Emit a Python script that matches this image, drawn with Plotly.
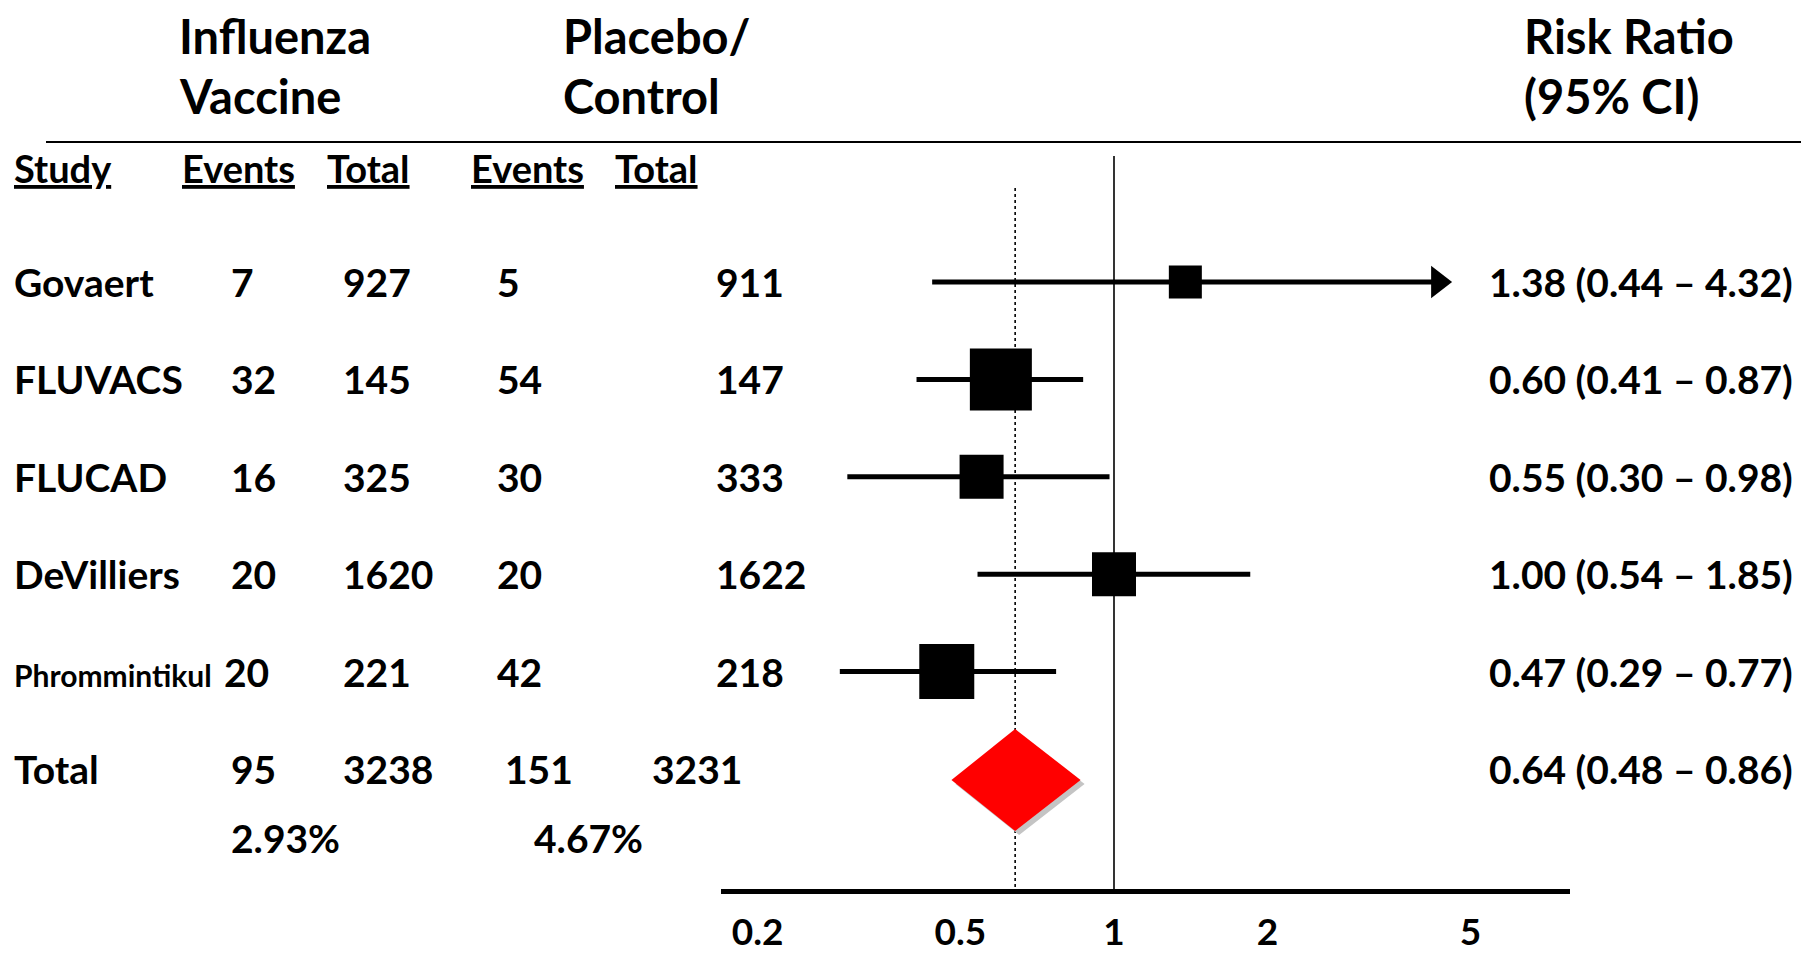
import numpy as np
import plotly.graph_objects as go

# ---------------- data ----------------
studies = ["Govaert", "FLUVACS", "FLUCAD", "DeVilliers", "Phrommintikul"]
vac_events = [7, 32, 16, 20, 20]
vac_total = [927, 145, 325, 1620, 221]
ctl_events = [5, 54, 30, 20, 42]
ctl_total = [911, 147, 333, 1622, 218]
rr = [1.38, 0.60, 0.55, 1.00, 0.47]
ci_low = [0.44, 0.41, 0.30, 0.54, 0.29]
ci_high = [4.32, 0.87, 0.98, 1.85, 0.77]

total_label = "Total"
total_vac_events = 95
total_vac = 3238
total_ctl_events = 151
total_ctl = 3231
vac_pct = "2.93%"
ctl_pct = "4.67%"
pooled_rr = 0.64
pooled_low = 0.48
pooled_high = 0.86

tick_vals = [0.2, 0.5, 1, 2, 5]
tick_text = ["0.2", "0.5", "1", "2", "5"]

# ---------------- layout / style ----------------
# the page body has an 8px margin, so every page position is shifted by OFF
OFF = 8
W, H = 1802, 945
AX_Y = 889 - OFF                # pixel row of the bottom axis line
ROW0, ROW_STEP = 282 - OFF, 97.4
row_y = [ROW0 + i * ROW_STEP for i in range(len(studies) + 1)]
pct_y = 838 - OFF
box_px = [33, 62, 44, 44, 55]
X_L, X_R = 721 - OFF, 1570 - OFF
PX_PER_DEC = 510
X_ONE = 1114 - OFF
xr = [-(X_ONE - X_L) / PX_PER_DEC, (X_R - X_ONE) / PX_PER_DEC]

FONT = "Lato, Open Sans, sans-serif"


def px(x):
    return (x - OFF) / W


fig = go.Figure()

# reference lines (null effect and pooled estimate)
fig.add_trace(go.Scatter(x=[1, 1], y=[156 - OFF, AX_Y], mode="lines",
                         line=dict(color="black", width=1.6), hoverinfo="skip"))
fig.add_trace(go.Scatter(x=[pooled_rr, pooled_rr], y=[188 - OFF, AX_Y], mode="lines",
                         line=dict(color="black", width=1.6, dash="dot"), hoverinfo="skip"))

# CI lines
for i in range(len(studies)):
    fig.add_trace(go.Scatter(x=[ci_low[i], ci_high[i]], y=[row_y[i], row_y[i]], mode="lines",
                             line=dict(color="black", width=5), hoverinfo="skip"))
# arrow head for the truncated interval (first study)
fig.add_trace(go.Scatter(x=[ci_high[0]], y=[row_y[0]], mode="markers",
                         marker=dict(symbol="triangle-right", size=28, color="black", opacity=1),
                         hoverinfo="skip"))
# point estimates
fig.add_trace(go.Scatter(x=rr, y=row_y[:len(studies)], mode="markers",
                         marker=dict(symbol="square", size=box_px, color="black", opacity=1,
                                     line=dict(width=0)),
                         hoverinfo="skip"))

# pooled diamond with shadow
dy = row_y[-1] + 11
half_h = 51
shadow_f = 10 ** (4 / PX_PER_DEC)
fig.add_trace(go.Scatter(
    x=[pooled_low * shadow_f, pooled_rr * shadow_f, pooled_high * shadow_f, pooled_rr * shadow_f, pooled_low * shadow_f],
    y=[dy + 4, dy - half_h + 4, dy + 4, dy + half_h + 4, dy + 4],
    mode="lines", fill="toself", fillcolor="#c4c4c4", line=dict(width=0), hoverinfo="skip"))
fig.add_trace(go.Scatter(
    x=[pooled_low, pooled_rr, pooled_high, pooled_rr, pooled_low],
    y=[dy, dy - half_h, dy, dy + half_h, dy],
    mode="lines", fill="toself", fillcolor="#ff0000", line=dict(width=0), hoverinfo="skip"))

ann = []


def txt(x, y, s, size, anchor="left"):
    ann.append(dict(x=px(x), y=y - OFF, xref="paper", yref="y", text=s, showarrow=False,
                    xanchor=anchor, yanchor="middle",
                    font=dict(family=FONT, size=size, color="black")))


HEAD_FS = 47
# top headers
txt(177, 36, "<b>Influenza</b>", HEAD_FS)
txt(177, 96, "<b>Vaccine</b>", HEAD_FS)
txt(561, 36, "<b>Placebo/</b>", HEAD_FS)
txt(561, 96, "<b>Control</b>", HEAD_FS)
txt(1522, 36, "<b>Risk Ratio</b>", HEAD_FS)
txt(1522, 96, "<b>(95% CI)</b>", HEAD_FS)

# column headers
HDR_Y = 168
COL_FS = 38
txt(12, HDR_Y, "<b><u>Study</u></b>", COL_FS)
txt(180, HDR_Y, "<b><u>Events</u></b>", COL_FS)
txt(325, HDR_Y, "<b><u>Total</u></b>", COL_FS)
txt(469, HDR_Y, "<b><u>Events</u></b>", COL_FS)
txt(613, HDR_Y, "<b><u>Total</u></b>", COL_FS)

ROW_FS = 39
RR_FS = 39
rows_px = [ROW0 + OFF + i * ROW_STEP for i in range(len(studies) + 1)]
for i, s in enumerate(studies):
    y = rows_px[i]
    small = len(s) > 11
    txt(12, y + (3 if small else 0), f"<b>{s}</b>", 30 if small else ROW_FS)
    txt(222 if small else 229, y, f"<b>{vac_events[i]}</b>", ROW_FS)
    txt(341, y, f"<b>{vac_total[i]}</b>", ROW_FS)
    txt(495, y, f"<b>{ctl_events[i]}</b>", ROW_FS)
    txt(714, y, f"<b>{ctl_total[i]}</b>", ROW_FS)
    txt(1487, y, f"<b>{rr[i]:.2f} ({ci_low[i]:.2f} – {ci_high[i]:.2f})</b>", RR_FS)

yt = rows_px[-1]
txt(12, yt, f"<b>{total_label}</b>", ROW_FS)
txt(229, yt, f"<b>{total_vac_events}</b>", ROW_FS)
txt(341, yt, f"<b>{total_vac}</b>", ROW_FS)
txt(503, yt, f"<b>{total_ctl_events}</b>", ROW_FS)
txt(650, yt, f"<b>{total_ctl}</b>", ROW_FS)
txt(1487, yt, f"<b>{pooled_rr:.2f} ({pooled_low:.2f} – {pooled_high:.2f})</b>", RR_FS)
txt(229, pct_y + OFF, f"<b>{vac_pct}</b>", ROW_FS)
txt(532, pct_y + OFF, f"<b>{ctl_pct}</b>", ROW_FS)

shapes = [dict(type="line", xref="paper", yref="y", x0=px(46), x1=px(1801),
               y0=142 - OFF, y1=142 - OFF, line=dict(color="black", width=2.2))]

fig.update_layout(
    width=W, height=H,
    margin=dict(l=0, r=0, t=0, b=H - AX_Y, pad=0, autoexpand=False),
    paper_bgcolor="white", plot_bgcolor="white",
    showlegend=False,
    annotations=ann, shapes=shapes,
    xaxis=dict(type="log", domain=[px(X_L + OFF), px(X_R + OFF)], range=xr, automargin=False,
               showgrid=False, zeroline=False,
               showline=True, linecolor="black", linewidth=5,
               tickmode="array", tickvals=tick_vals,
               ticktext=[f"<b>{t}</b>" for t in tick_text],
               ticks="outside", ticklen=7, tickcolor="rgba(0,0,0,0)",
               tickfont=dict(family=FONT, size=37, color="black")),
    yaxis=dict(range=[AX_Y, 0], domain=[0, 1], visible=False, fixedrange=True, automargin=False),
)

fig.write_html("out.html")
